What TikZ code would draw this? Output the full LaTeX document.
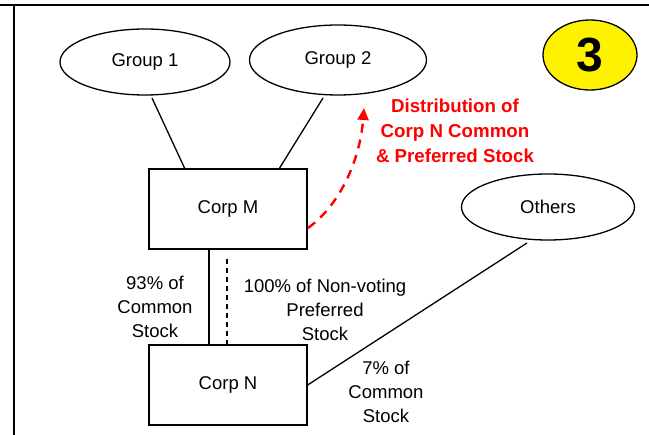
\documentclass[tikz,border=0pt]{standalone}
\usepackage{fontspec}
\setmainfont{Liberation Sans}
\usetikzlibrary{shapes.geometric,arrows.meta}
\begin{document}
\begin{tikzpicture}[x=1pt,y=-1pt,
  lbl/.style={font=\fontsize{18.5}{24}\selectfont, align=center, inner sep=0pt},
  ell/.style={draw, ellipse, line width=1.3pt, inner sep=0pt},
  box/.style={draw, rectangle, line width=1.3pt, minimum width=158pt, minimum height=80pt, inner sep=0pt},
  conn/.style={line width=1.3pt},
  redtxt/.style={font=\bfseries\fontsize{18.7}{25}\selectfont, text=red, align=center, inner sep=0pt}
]
\useasboundingbox (0,0) rectangle (649,435);
% frame
\draw[line width=2.8pt] (0,5) -- (649,5);
\draw[line width=2.8pt] (14,5) -- (14,435);
% nodes
\node[ell, minimum width=170pt, minimum height=66pt, lbl] (g1) at (145,62) {Group 1};
\node[ell, minimum width=177pt, minimum height=70pt, lbl] (g2) at (338,60) {Group 2};
\node[ell, fill=yellow, minimum width=94pt, minimum height=70pt, font=\bfseries\fontsize{48}{48}\selectfont, inner sep=0pt] (three) at (590,55) {3};
\node[box, lbl] (m) at (228,209) {Corp M};
\node[box, lbl] (n) at (228,385) {Corp N};
\node[ell, minimum width=173pt, minimum height=66pt, lbl] (o) at (548,207) {Others};
% connectors
\coordinate (g1b) at (152,98);
\coordinate (g2b) at (323,98);
\draw[conn] (g1b) -- (185,169);
\draw[conn] (g2b) -- (279,169);
\draw[conn] (m.south -| 209,0) -- (n.north -| 209,0);
\draw[conn, dashed, line width=1.1pt, dash pattern=on 5pt off 4pt] (227,259) -- (n.north -| 227,0);
\coordinate (ob) at (527,243);
\draw[conn] (ob) -- (n.east);
% red arrow
\coordinate (ra) at (308,228);
\coordinate (rb) at (364,108);
\draw[red, line width=2.4pt, dash pattern=on 9pt off 7pt, -{Triangle[length=12pt,width=11pt]}] (ra) .. controls (340,205) and (360,160) .. (rb);
% labels
\node[lbl] (l93) at (155,307) {93\% of\\Common\\Stock};
\node[lbl] (l100) at (325,310) {100\% of Non-voting\\Preferred\\Stock};
\node[lbl] (l7) at (386,392) {7\% of\\Common\\Stock};
\node[redtxt] (dist) at (455,131) {Distribution of\\Corp N Common\\\& Preferred Stock};
\end{tikzpicture}
\end{document}
